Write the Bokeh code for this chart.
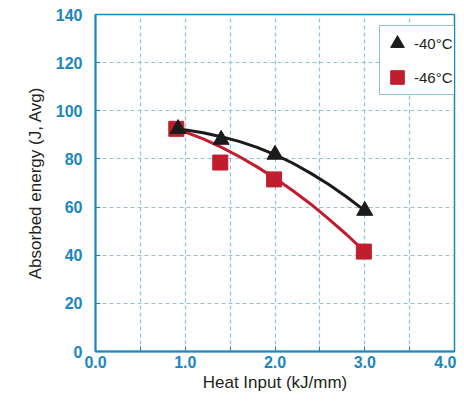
from bokeh.plotting import figure
from bokeh.models import FixedTicker, Legend, LegendItem, Range1d, NumeralTickFormatter
from bokeh.embed import file_html
from bokeh.resources import INLINE

# ---- data ----
heat_input_40 = [0.92, 1.40, 2.00, 3.00]
energy_40 = [92.5, 88.0, 81.8, 58.5]
heat_input_46 = [0.90, 1.39, 1.99, 2.99]
energy_46 = [92.5, 78.5, 71.5, 41.5]

# smooth trend curves as drawn in the reference
trend_x = [0.92, 1.2, 1.4, 1.6, 1.8, 2.0, 2.2, 2.4, 2.6, 2.8, 3.0]
trend_40 = [92.5, 90.9, 89.2, 87.3, 84.8, 81.8, 78.2, 74.0, 69.4, 64.2, 58.5]
trend_46 = [92.3, 88.3, 84.9, 81.0, 76.7, 72.0, 66.8, 61.2, 55.0, 48.5, 41.5]

series_labels = ["-40°C", "-46°C"]
x_ticks = [0, 1, 2, 3, 4]
x_minor_ticks = [0.5, 1.5, 2.5, 3.5]
x_grid_ticks = [0, 0.5, 1, 1.5, 2, 2.5, 3, 3.5, 4]
y_ticks = [0, 20, 40, 60, 80, 100, 120, 140]

BLUE = "#1b86bf"
GRID = "#8cc3df"
BLACK = "#1c1a1b"
RED = "#c01e2e"
FONT = "Liberation Sans"

p = figure(width=456, height=395, x_range=Range1d(0, 4), y_range=Range1d(0, 140),
           output_backend="svg", toolbar_location=None,
           min_border_left=95, min_border_top=14, min_border_right=2, min_border_bottom=44)
p.background_fill_color = "white"
p.border_fill_color = "white"
p.outline_line_color = BLUE
p.outline_line_width = 1.5

p.xaxis.ticker = FixedTicker(ticks=x_ticks, minor_ticks=x_minor_ticks)
p.yaxis.ticker = FixedTicker(ticks=y_ticks)
p.xaxis.formatter = NumeralTickFormatter(format="0.0")
p.xgrid.ticker = FixedTicker(ticks=x_grid_ticks)
p.ygrid.ticker = FixedTicker(ticks=y_ticks)

for g in (p.xgrid, p.ygrid):
    g.grid_line_color = GRID
    g.grid_line_dash = "4 3"
    g.grid_line_width = 1.2

for ax in (p.xaxis, p.yaxis):
    ax.axis_line_color = BLUE
    ax.axis_line_width = 2
    ax.major_tick_line_color = BLUE
    ax.minor_tick_line_color = BLUE
    ax.major_tick_in = 5
    ax.major_tick_out = 0
    ax.minor_tick_in = 5
    ax.minor_tick_out = 0
    ax.major_label_text_font = FONT
    ax.major_label_text_font_style = "bold"
    ax.major_label_text_font_size = "16px"
    ax.major_label_text_color = BLUE
    ax.axis_label_text_font = FONT
    ax.axis_label_text_font_style = "normal"
    ax.axis_label_text_font_size = "17px"
    ax.axis_label_text_color = "#231f20"

p.yaxis.minor_tick_line_color = None
p.xaxis.major_label_standoff = 4
p.yaxis.major_label_standoff = 13
p.xaxis.axis_label_standoff = 2
p.yaxis.axis_label_standoff = 8
p.xaxis.axis_label = "Heat Input (kJ/mm)"
p.yaxis.axis_label = "Absorbed energy (J, Avg)"

p.line(trend_x, trend_46, line_width=3, color=RED)
p.line(trend_x, trend_40, line_width=3, color=BLACK)
sq = p.scatter(heat_input_46, energy_46, marker="square", size=15, color=RED)
tri = p.scatter(heat_input_40, energy_40, marker="triangle", size=16, color=BLACK)

legend = Legend(items=[LegendItem(label=series_labels[0], renderers=[tri]),
                       LegendItem(label=series_labels[1], renderers=[sq])],
                location=(284, 256),
                glyph_width=34, glyph_height=34,
                padding=(0, 4, 0, 0), spacing=0,
                label_standoff=0, label_width=38, label_height=20,
                border_line_color=BLUE, border_line_width=1.5,
                background_fill_color="white", background_fill_alpha=1,
                label_text_font=FONT, label_text_font_size="15px",
                label_text_color="#231f20")
p.add_layout(legend)

open("out.html", "w").write(file_html(p, INLINE))
